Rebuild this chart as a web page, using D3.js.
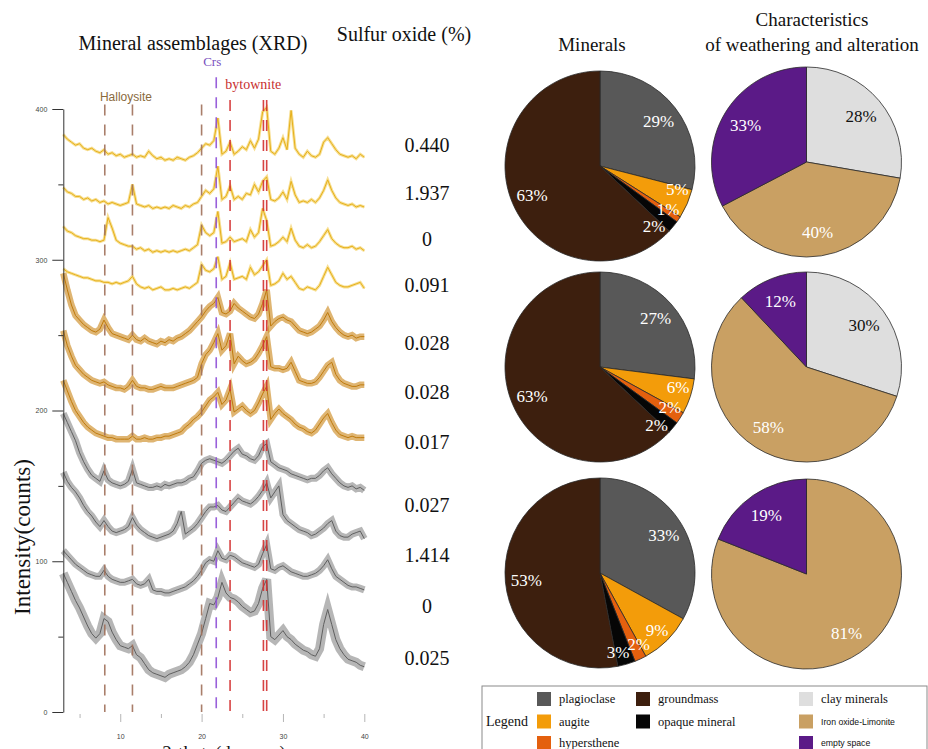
<!DOCTYPE html>
<html>
<head>
<meta charset="utf-8">
<script src="https://cdn.jsdelivr.net/npm/d3@7"></script>
<style>
  body { margin: 0; background: #fff; }
  svg { display: block; }
</style>
</head>
<body>
<svg id="chart" width="928" height="749"></svg>
<script>
// ---------- XRD data: 2-theta grid (degrees) and intensities (counts) ----------
const twoTheta = [3,3.5,4,4.5,5,5.5,6,6.5,7,7.5,8,8.5,9,9.5,10,10.5,11,11.5,12,12.5,
  13,13.5,14,14.5,15,15.5,16,16.5,17,17.5,18,18.5,19,19.5,20,20.5,21,21.5,22,22.5,
  23,23.5,24,24.5,25,25.5,26,26.5,27,27.5,28,28.5,29,29.5,30,30.5,31,31.5,32,32.5,
  33,33.5,34,34.5,35,35.5,36,36.5,37,37.5,38,38.5,39,39.5,40];

const xrd01 = [383,380,378,376,377,374,373,374,372,371, 373,370,371,369,370,368,369,370,368,369,
  368,372,369,367,368,366,367,366,368,367, 366,368,369,371,374,377,376,379,394,370,
  372,378,370,372,375,373,379,374,380,398, 401,372,370,374,381,373,399,374,370,368,
  372,369,368,370,378,381,377,373,370,369, 368,369,367,370,368];
const xrd02 = [348,345,344,342,342,340,341,339,340,338, 339,337,338,337,336,337,338,350,337,336,
  335,336,334,335,334,335,334,336,335,334, 336,335,337,338,342,346,344,347,362,340,
  342,349,340,342,340,344,343,350,345,352, 355,340,339,341,345,340,352,343,338,339,
  338,340,338,341,346,353,346,341,338,337, 336,337,335,336,335];
const xrd03 = [322,319,318,316,315,314,314,313,313,312, 313,328,321,313,311,310,309,309,307,308,
  306,307,305,306,305,306,305,306,305,306, 307,306,308,310,323,318,316,318,332,311,
  312,315,312,313,314,312,320,315,318,334, 326,309,310,312,315,312,321,313,309,308,
  310,308,309,312,316,320,314,311,309,308, 308,309,307,308,306];
const xrd04 = [294,292,291,290,289,288,288,287,286,286, 285,285,284,285,284,285,286,289,284,282,
  281,282,280,281,282,280,280,281,280,281, 282,281,283,285,297,293,292,294,302,287,
  289,298,287,288,289,287,295,290,292,296, 300,283,284,286,291,287,289,285,281,280,
  282,281,280,283,289,295,290,285,283,282, 282,283,284,285,281];
const xrd05 = [291,280,270,263,260,257,255,253,252,254, 260,255,251,250,249,248,247,250,247,246,
  248,246,245,244,246,245,247,246,248,249, 251,253,256,259,262,266,269,271,275,265,
  264,266,271,268,266,264,262,261,264,271, 280,256,259,261,262,260,259,256,253,252,
  251,252,254,256,260,265,259,255,252,250, 249,250,248,249,249];
const xrd06 = [253,243,236,230,227,224,222,220,219,218, 219,217,216,215,215,214,216,220,216,215,
  215,214,214,215,216,215,215,215,216,217, 218,219,220,222,231,237,240,245,251,240,
  243,251,231,236,233,231,232,234,238,243, 249,229,228,228,227,228,232,226,220,219,
  218,218,219,222,226,230,232,224,220,218, 217,216,216,217,217];
const xrd07 = [220,213,206,200,196,192,189,187,185,184, 183,182,182,181,181,181,181,183,181,181,
  182,181,181,182,182,183,183,184,185,186, 189,191,194,196,199,203,207,209,212,204,
  207,214,199,201,203,200,198,200,205,211, 216,194,198,201,198,196,194,191,189,188,
  186,185,187,191,195,198,192,187,184,183, 182,183,182,182,182];
const xrd08 = [198,192,186,180,172,166,161,157,155,153, 160,154,152,151,150,151,153,161,152,151,
  150,149,149,150,149,151,150,151,152,152, 153,155,156,160,165,167,168,167,166,165,
  167,170,173,175,171,170,168,167,170,176, 178,166,164,162,161,160,158,157,156,155,
  154,155,155,157,160,162,158,155,152,150, 149,150,148,149,147];
const xrd09 = [159,153,149,146,142,137,133,130,126,123, 127,123,120,119,120,121,123,129,124,121,
  119,117,116,115,116,117,118,120,125,133, 118,120,122,125,129,133,136,136,137,134,
  133,136,139,142,140,139,138,140,143,147, 152,142,146,150,131,127,125,123,121,120,
  119,117,118,120,122,125,127,120,117,116, 116,118,119,120,115];
const xrd10 = [107,104,101,98,96,94,92,91,90,90, 94,90,88,87,86,86,87,88,85,84,
  85,88,81,80,80,79,79,80,81,82, 83,85,87,90,94,99,101,100,107,102,
  101,104,103,101,99,98,97,96,98,105, 111,95,94,96,97,95,93,92,91,90,
  90,91,92,94,97,101,95,90,88,86, 84,83,83,82,81];
const xrd11 = [92,86,80,74,69,63,57,52,49,52, 62,60,53,48,44,43,42,44,38,36,
  32,28,26,25,24,23,25,26,27,28, 30,33,38,45,52,62,72,71,76,86,
  79,76,75,73,70,68,66,67,72,82, 88,50,48,51,54,50,48,45,43,41,
  40,38,37,42,58,68,58,48,42,38, 35,34,33,31,30];

const xrdSamples = [xrd01, xrd02, xrd03, xrd04, xrd05, xrd06, xrd07, xrd08, xrd09, xrd10, xrd11];
const sampleGroup = ["A","A","A","A","B","B","B","C","C","C","C"];
const sulfurOxide = [0.440, 1.937, 0, 0.091, 0.028, 0.028, 0.017, 0.027, 1.414, 0, 0.025];

// reference peak positions (2-theta)
const halloysitePeaks = [8.1, 11.5, 20.0];
const crsPeaks = [21.8];
const bytownitePeaks = [23.5, 27.6, 28.0];

const yTickValues = [0, 50, 100, 150, 200, 250, 300, 350, 400];
const xTickValues = [5, 10, 15, 20, 25, 30, 35, 40];

// ---------- composition data (%) ----------
const mineralNames = ["plagioclase", "augite", "hypersthene", "opaque mineral", "groundmass"];
const mineralsRow1 = [29, 5, 1, 2, 63];
const mineralsRow2 = [27, 6, 2, 2, 63];
const mineralsRow3 = [33, 9, 2, 3, 53];

const weatheringNames = ["clay minerals", "Iron oxide-Limonite", "empty space"];
const weatheringRow1 = [28, 40, 33];
const weatheringRow2 = [30, 58, 12];
const weatheringRow3 = [0, 81, 19];

// ---------- styling ----------
const serif = "'Liberation Serif','Times New Roman',serif";
const sans = "'Liberation Sans',Arial,sans-serif";
const groupStyle = {
  A: { core: "#e6b01a", band: "#f0c43a", bandWidth: 3, bandOpacity: 0.55 },
  B: { core: "#bf7a0c", band: "#c98414", bandWidth: 6.5, bandOpacity: 0.6 },
  C: { core: "#5f5f5f", band: "#7a7a7a", bandWidth: 7, bandOpacity: 0.55 }
};
const fillColor = {
  "plagioclase": "#585858",
  "augite": "#f39c0a",
  "hypersthene": "#e4600e",
  "opaque mineral": "#060606",
  "groundmass": "#3d1f0e",
  "clay minerals": "#dedede",
  "Iron oxide-Limonite": "#c9a063",
  "empty space": "#5b1a87"
};

const svg = d3.select("#chart");

// ---------- XRD panel ----------
const x = d3.scaleLinear().domain([3, 40]).range([63.3, 364.3]);
const y = d3.scaleLinear().domain([0, 400]).range([712, 109]);

const line = d3.line()
  .x((d, i) => x(twoTheta[i]))
  .y(d => y(d));

const traces = svg.append("g").attr("class", "traces");
xrdSamples.forEach((vals, k) => {
  const st = groupStyle[sampleGroup[k]];
  const bw = k === xrdSamples.length - 1 ? 9 : st.bandWidth;
  traces.append("path")
    .attr("d", line(vals))
    .attr("fill", "none")
    .attr("stroke", st.band)
    .attr("stroke-width", bw)
    .attr("stroke-opacity", st.bandOpacity)
    .attr("stroke-linejoin", "miter");
  traces.append("path")
    .attr("d", line(vals))
    .attr("fill", "none")
    .attr("stroke", st.core)
    .attr("stroke-width", 1)
    .attr("stroke-linejoin", "miter");
});

// dashed reference lines for identified phases
const markers = svg.append("g").attr("class", "markers");
function drawMarkers(peaks, color, topCount) {
  peaks.forEach(p => {
    markers.append("line")
      .attr("x1", x(p)).attr("x2", x(p))
      .attr("y1", y(topCount)).attr("y2", y(0))
      .attr("stroke", color)
      .attr("stroke-width", 1.6)
      .attr("stroke-dasharray", "11,9")
      .attr("stroke-opacity", 0.9);
  });
}
drawMarkers(halloysitePeaks, "#a0705a", 403);
drawMarkers(crsPeaks, "#8e4fd6", 421);
drawMarkers(bytownitePeaks, "#d32f2f", 406);

markers.append("text").attr("x", x(10.7)).attr("y", 101)
  .attr("text-anchor", "middle").attr("font-family", sans).attr("font-size", 12)
  .attr("fill", "#8a6a3c").text("Halloysite");
markers.append("text").attr("x", x(21.3)).attr("y", 66)
  .attr("text-anchor", "middle").attr("font-family", serif).attr("font-size", 13)
  .attr("fill", "#7a4fc0").text("Crs");
markers.append("text").attr("x", x(26.35)).attr("y", 89)
  .attr("text-anchor", "middle").attr("font-family", serif).attr("font-size", 14)
  .attr("fill", "#c83030").text("bytownite");

// y axis
const yAxis = d3.axisLeft(y)
  .tickValues(yTickValues)
  .tickSize(11)
  .tickSizeOuter(0)
  .tickPadding(5)
  .tickFormat(d => d % 100 === 0 ? d : "");
const gy = svg.append("g").attr("transform", "translate(63.3,0)").call(yAxis);
gy.select(".domain").attr("stroke", "#333");
gy.selectAll(".tick line").attr("stroke", "#333")
  .filter(d => d % 100 !== 0).attr("x2", -5);
gy.selectAll(".tick text").attr("font-size", 7).attr("fill", "#444")
  .attr("font-family", sans);

// x axis (ticks only)
const xAxis = d3.axisBottom(x)
  .tickValues(xTickValues)
  .tickSize(8)
  .tickSizeOuter(0)
  .tickPadding(12)
  .tickFormat(d => d % 10 === 0 ? d : "");
const gx = svg.append("g").attr("transform", "translate(0,714)").call(xAxis);
gx.select(".domain").remove();
gx.selectAll(".tick line").attr("stroke", "#b5b5b5")
  .filter(d => d % 10 !== 0).attr("y2", 4);
gx.selectAll(".tick text").attr("font-size", 7).attr("fill", "#444")
  .attr("font-family", sans);

// axis titles
svg.append("text")
  .attr("transform", "translate(30,537) rotate(-90)")
  .attr("text-anchor", "middle").attr("font-family", serif).attr("font-size", 23)
  .attr("fill", "#111").text("Intensity(counts)");
svg.append("text").attr("x", 224).attr("y", 759)
  .attr("text-anchor", "middle").attr("font-family", serif).attr("font-size", 19)
  .attr("fill", "#111").text("2-theta(degrees)");

svg.append("text").attr("x", 193).attr("y", 50)
  .attr("text-anchor", "middle").attr("font-family", serif).attr("font-size", 20)
  .attr("fill", "#111").text("Mineral assemblages (XRD)");

// sulfur oxide column
svg.append("text").attr("x", 404).attr("y", 41)
  .attr("text-anchor", "middle").attr("font-family", serif).attr("font-size", 20)
  .attr("fill", "#111").text("Sulfur oxide (%)");
const sulfurLevel = [376, 344, 314, 283, 245, 212, 179, 137, 104, 70, 36];
const fmt3 = d3.format(".3f");
svg.append("g").selectAll("text").data(sulfurOxide).join("text")
  .attr("x", 427)
  .attr("y", (d, i) => y(sulfurLevel[i]))
  .attr("dy", "0.35em")
  .attr("text-anchor", "middle").attr("font-family", serif).attr("font-size", 20)
  .attr("fill", "#111")
  .text(d => d === 0 ? "0" : fmt3(d));

// ---------- pie charts ----------
const R = 95;
const pie = d3.pie().sort(null).value(d => d);
const arc = d3.arc().innerRadius(0).outerRadius(R);

// spread the angles of neighbouring small-slice labels so they do not pile up
function spreadAngles(angles, minGap) {
  const a = angles.slice();
  for (let it = 0; it < 60; it++) {
    for (let i = 1; i < a.length; i++) {
      const gap = a[i] - a[i - 1];
      if (gap < minGap) {
        const push = (minGap - gap) / 2;
        a[i - 1] -= push;
        a[i] += push;
      }
    }
  }
  return a;
}

function drawPie(cx, cy, values, names, labelColor, labelK) {
  const g = svg.append("g").attr("transform", `translate(${cx},${cy})`);
  const arcs = pie(values);
  g.selectAll("path").data(arcs).join("path")
    .attr("d", arc)
    .attr("fill", (d, i) => fillColor[names[i]])
    .attr("stroke", "#2a2a2a")
    .attr("stroke-width", 0.8)
    .attr("stroke-linejoin", "round");

  const shown = arcs.filter(d => d.data > 0);
  const mids = shown.map(d => (d.startAngle + d.endAngle) / 2);
  const small = shown.map(d => d.data < 10);
  const smallIdx = small.map((s, i) => s ? i : -1).filter(i => i >= 0);
  const spread = spreadAngles(smallIdx.map(i => mids[i]), 15.5 * Math.PI / 180);
  smallIdx.forEach((i, j) => { mids[i] = spread[j]; });

  g.selectAll("text").data(shown).join("text")
    .attr("transform", (d, i) => {
      const rr = R * labelK(d.data);
      return `translate(${Math.sin(mids[i]) * rr},${-Math.cos(mids[i]) * rr})`;
    })
    .attr("dy", "0.35em")
    .attr("text-anchor", "middle")
    .attr("font-family", serif).attr("font-size", 17)
    .attr("fill", d => labelColor(names[d.index]))
    .text(d => d.data + "%");
}

const mineralLabelK = v => v < 10 ? 0.85 : 0.78;
const weatheringLabelK = () => 0.75;
const mineralLabelColor = () => "#ffffff";
const weatheringLabelColor = n => n === "clay minerals" ? "#111111" : "#ffffff";

drawPie(600, 166, mineralsRow1, mineralNames, mineralLabelColor, mineralLabelK);
drawPie(600, 367, mineralsRow2, mineralNames, mineralLabelColor, mineralLabelK);
drawPie(600, 573, mineralsRow3, mineralNames, mineralLabelColor, mineralLabelK);
drawPie(806.5, 162, weatheringRow1, weatheringNames, weatheringLabelColor, weatheringLabelK);
drawPie(806.5, 367, weatheringRow2, weatheringNames, weatheringLabelColor, weatheringLabelK);
drawPie(806.5, 574, weatheringRow3, weatheringNames, weatheringLabelColor, weatheringLabelK);

svg.append("text").attr("x", 592).attr("y", 51)
  .attr("text-anchor", "middle").attr("font-family", serif).attr("font-size", 19)
  .attr("fill", "#111").text("Minerals");
svg.append("text").attr("x", 812).attr("y", 26)
  .attr("text-anchor", "middle").attr("font-family", serif).attr("font-size", 19)
  .attr("fill", "#111").text("Characteristics");
svg.append("text").attr("x", 812).attr("y", 51)
  .attr("text-anchor", "middle").attr("font-family", serif).attr("font-size", 19)
  .attr("fill", "#111").text("of weathering and alteration");

// ---------- legend ----------
const lg = svg.append("g");
lg.append("rect").attr("x", 482).attr("y", 686).attr("width", 445).attr("height", 80)
  .attr("fill", "#fff").attr("stroke", "#8a8a8a").attr("stroke-width", 1);
lg.append("text").attr("x", 486).attr("y", 726)
  .attr("font-family", serif).attr("font-size", 14).attr("fill", "#111").text("Legend");

const legendCols = [537, 636, 799];
const legendRows = [699, 721.5, 743];
const legendLayout = [
  ["plagioclase", 0, 0, false], ["augite", 0, 1, false], ["hypersthene", 0, 2, false],
  ["groundmass", 1, 0, false], ["opaque mineral", 1, 1, false],
  ["clay minerals", 2, 0, false], ["Iron oxide-Limonite", 2, 1, true], ["empty space", 2, 2, true]
];
legendLayout.forEach(([name, c, r, small]) => {
  const sx = legendCols[c], sy = legendRows[r];
  lg.append("rect").attr("x", sx).attr("y", sy - 7).attr("width", 14).attr("height", 14)
    .attr("fill", fillColor[name]);
  lg.append("text").attr("x", sx + 22).attr("y", sy + (small ? 3 : 4))
    .attr("font-family", small ? sans : serif)
    .attr("font-size", small ? 8.7 : 12.5)
    .attr("fill", "#111").text(name);
});
</script>
</body>
</html>
